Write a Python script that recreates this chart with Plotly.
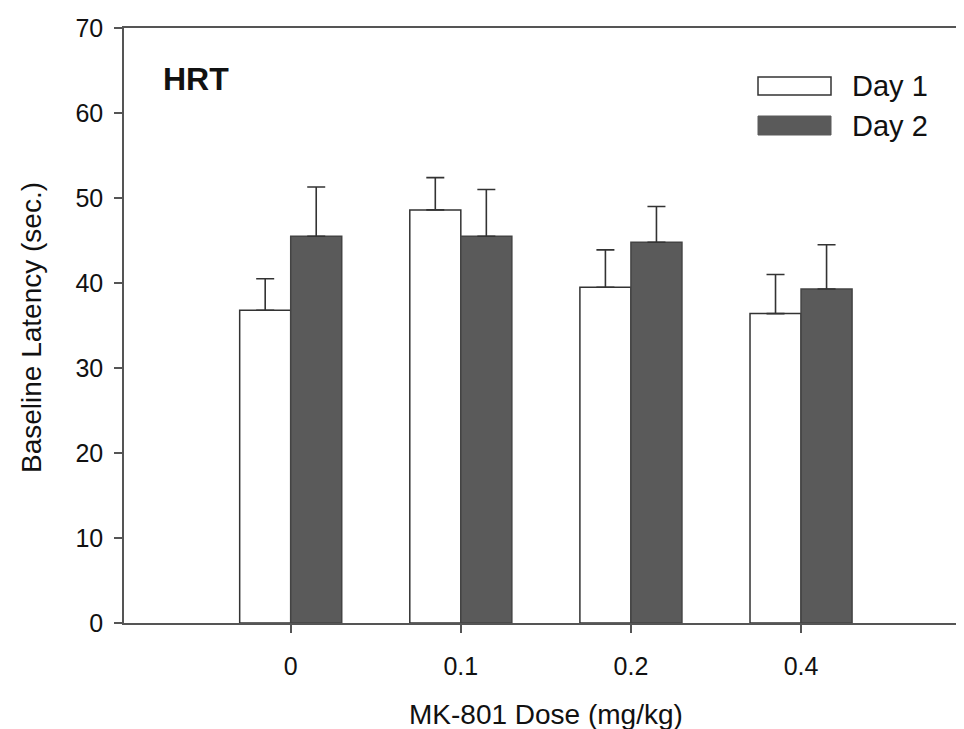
import plotly.graph_objects as go

doses = ["0", "0.1", "0.2", "0.4"]
day1 = [36.8, 48.6, 39.5, 36.4]
day1_err = [3.7, 3.8, 4.4, 4.6]
day2 = [45.5, 45.5, 44.8, 39.3]
day2_err = [5.8, 5.5, 4.2, 5.2]
series_names = ["Day 1", "Day 2"]
y_ticks = [0, 10, 20, 30, 40, 50, 60, 70]

FONT = "Liberation Sans, Arial, Helvetica, sans-serif"
W, H = 964, 729
L, R, T, B = 116, 0, 20, 114
pw, ph = W - L - R, H - T - B


def px(x):
    return (x - L) / pw


def py(y):
    return (H - B - y) / ph


fig = go.Figure()
fig.add_trace(go.Bar(
    x=doses, y=day1, name=series_names[0],
    marker=dict(color="white", line=dict(color="#333333", width=1.5)),
    error_y=dict(type="data", array=day1_err, arrayminus=[0] * len(day1_err),
                 symmetric=False, color="#333333", thickness=1.6, width=9),
    showlegend=False,
))
fig.add_trace(go.Bar(
    x=doses, y=day2, name=series_names[1],
    marker=dict(color="#5a5a5a", line=dict(color="#444444", width=1.5)),
    error_y=dict(type="data", array=day2_err, arrayminus=[0] * len(day2_err),
                 symmetric=False, color="#333333", thickness=1.6, width=9),
    showlegend=False,
))

fig.update_layout(
    width=W, height=H,
    margin=dict(l=L, r=R, t=T, b=B, pad=0),
    paper_bgcolor="white", plot_bgcolor="white",
    barmode="group", bargap=0.4, bargroupgap=0,
    font=dict(family=FONT, color="#111111"),
)
fig.update_xaxes(
    type="category", range=[-0.98, 4.005],
    showline=True, linecolor="#555555", linewidth=1.5, mirror=True,
    ticks="outside", ticklen=8, tickwidth=1.5, tickcolor="#555555",
    tickfont=dict(size=25, family=FONT, color="#111111"),
    ticklabelstandoff=12,
    showgrid=False, zeroline=False,
)
fig.update_yaxes(
    range=[0, 70], tickvals=y_ticks,
    showline=True, linecolor="#555555", linewidth=1.5,
    ticks="outside", ticklen=8, tickwidth=1.5, tickcolor="#555555",
    tickfont=dict(size=25, family=FONT, color="#111111"),
    ticklabelstandoff=6,
    showgrid=False, zeroline=False,
)

annotations = [
    dict(text="Baseline Latency (sec.)", x=px(23), y=py(320), xref="paper", yref="paper",
         textangle=-90, showarrow=False, xanchor="center", yanchor="middle",
         font=dict(size=28, family=FONT, color="#111111")),
    dict(text="MK-801 Dose (mg/kg)", x=px(538), y=py(707), xref="paper", yref="paper",
         showarrow=False, xanchor="center", yanchor="middle",
         font=dict(size=28, family=FONT, color="#111111")),
    dict(text="<b>HRT</b>", x=px(153), y=py(71), xref="paper", yref="paper",
         showarrow=False, xanchor="left", yanchor="middle",
         font=dict(size=32, family=FONT, color="#111111")),
    dict(text=series_names[0], x=px(842), y=py(78), xref="paper", yref="paper",
         showarrow=False, xanchor="left", yanchor="middle",
         font=dict(size=29, family=FONT, color="#111111")),
    dict(text=series_names[1], x=px(842), y=py(118), xref="paper", yref="paper",
         showarrow=False, xanchor="left", yanchor="middle",
         font=dict(size=29, family=FONT, color="#111111")),
]
shapes = [
    dict(type="rect", xref="paper", yref="paper", x0=px(750), x1=px(823), y0=py(87), y1=py(69),
         fillcolor="white", line=dict(color="#333333", width=1.5)),
    dict(type="rect", xref="paper", yref="paper", x0=px(750), x1=px(823), y0=py(127), y1=py(108),
         fillcolor="#5a5a5a", line=dict(color="#5a5a5a", width=1)),
]
fig.update_layout(annotations=annotations, shapes=shapes)

fig.write_html("out.html")
